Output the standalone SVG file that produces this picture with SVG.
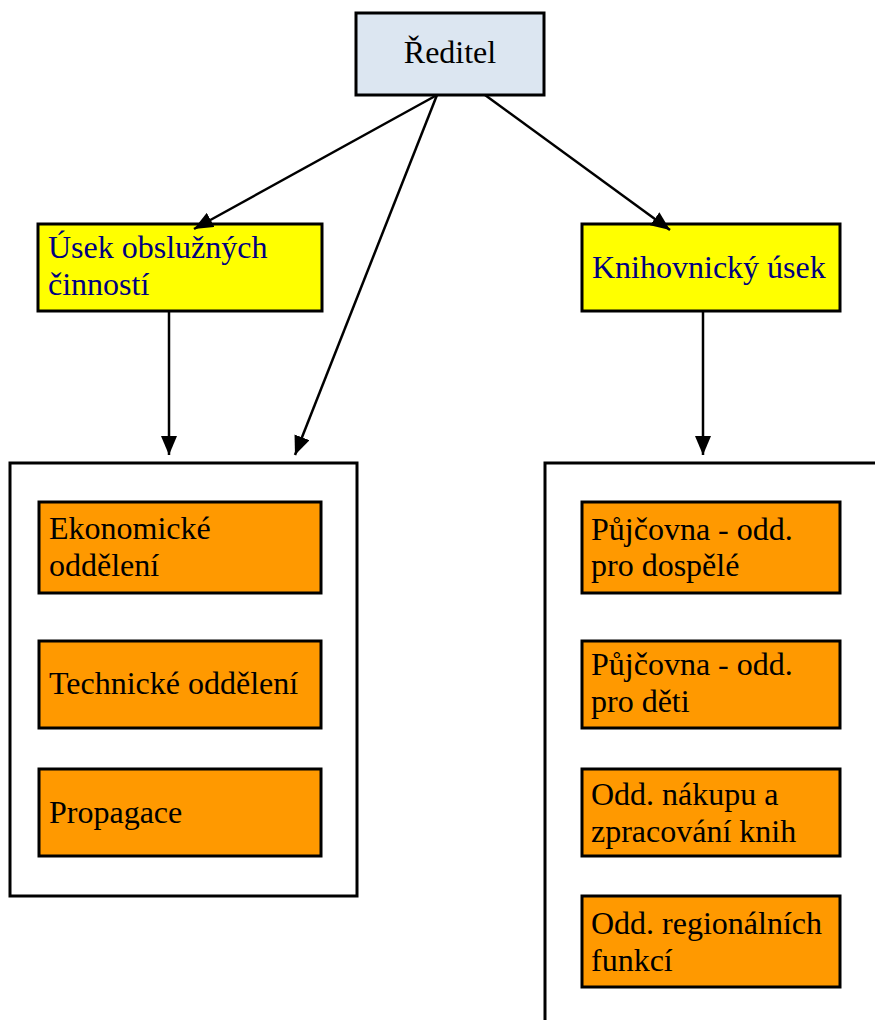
<svg xmlns="http://www.w3.org/2000/svg" width="875" height="1020" viewBox="0 0 875 1020">
<style>
.t{font-family:"Liberation Serif","Times New Roman",serif;font-size:32px;fill:#000}
.b{fill:#000080}
.dir{fill:#dce6f1;stroke:#000;stroke-width:3}
.sec{fill:#ffff00;stroke:#000;stroke-width:3}
.dep{fill:#ff9900;stroke:#000;stroke-width:3}
.cont{fill:none;stroke:#000;stroke-width:3}
.c{stroke:#000;stroke-width:2.5;fill:none;marker-end:url(#ah)}
</style>
<defs>
<marker id="ah" markerUnits="userSpaceOnUse" markerWidth="20" markerHeight="16" refX="19" refY="8" orient="auto">
<path d="M0,0 L19,8 L0,16 z" fill="#000"/>
</marker>
</defs>
<rect width="875" height="1020" fill="#fff"/>
<g id="containers">
<rect class="cont" x="10" y="463" width="347" height="433"/>
<path class="cont" d="M545,1020 V463 H875"/>
</g>
<g id="reditel"><rect class="dir" x="356" y="13" width="188" height="82"/><text class="t" x="450" y="63" text-anchor="middle">Ředitel</text></g>
<g id="usek-obsl"><rect class="sec" x="38" y="224" width="284" height="87"/><text class="t b" x="48" y="258">Úsek obslužných</text><text class="t b" x="48" y="295">činností</text></g>
<g id="knihovnicky"><rect class="sec" x="582" y="224" width="258" height="87"/><text class="t b" x="592" y="278">Knihovnický úsek</text></g>
<g id="ekonomicke"><rect class="dep" x="39" y="502" width="282" height="91"/><text class="t" x="49" y="539">Ekonomické</text><text class="t" x="49" y="576">oddělení</text></g>
<g id="technicke"><rect class="dep" x="39" y="641" width="282" height="87"/><text class="t" x="49" y="694">Technické oddělení</text></g>
<g id="propagace"><rect class="dep" x="39" y="769" width="282" height="87"/><text class="t" x="49" y="823">Propagace</text></g>
<g id="pujcovna-dosp"><rect class="dep" x="582" y="502" width="258" height="91"/><text class="t" x="591" y="540">Půjčovna - odd.</text><text class="t" x="591" y="576">pro dospělé</text></g>
<g id="pujcovna-deti"><rect class="dep" x="582" y="641" width="258" height="87"/><text class="t" x="591" y="675">Půjčovna - odd.</text><text class="t" x="591" y="712">pro děti</text></g>
<g id="nakup"><rect class="dep" x="582" y="769" width="258" height="87"/><text class="t" x="591" y="805">Odd. nákupu a</text><text class="t" x="591" y="842">zpracování knih</text></g>
<g id="regionalni"><rect class="dep" x="582" y="896" width="258" height="91"/><text class="t" x="591" y="934">Odd. regionálních</text><text class="t" x="591" y="971">funkcí</text></g>
<g id="connectors">
<line class="c" x1="437" y1="95" x2="194" y2="229"/>
<line class="c" x1="437" y1="95" x2="295" y2="455"/>
<line class="c" x1="485" y1="95" x2="670" y2="230"/>
<line class="c" x1="169" y1="311" x2="169" y2="455"/>
<line class="c" x1="703" y1="311" x2="703" y2="455"/>
</g>
</svg>
